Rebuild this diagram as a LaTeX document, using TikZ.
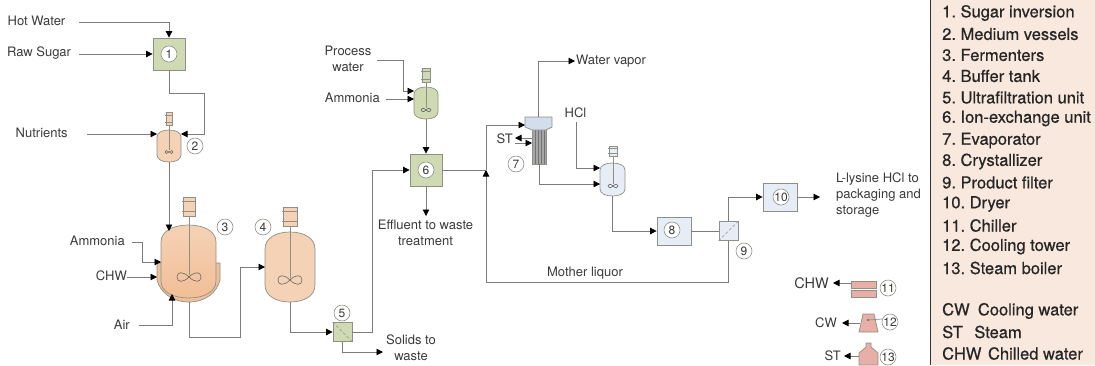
\documentclass[tikz,border=0pt]{standalone}
\usepackage{fontspec}
\setmainfont{TeX Gyre Heros}
\newfontfamily\legendfont[FakeBold=0.6]{TeX Gyre Heros}
\frenchspacing
\usetikzlibrary{arrows.meta,calc}
\definecolor{linegray}{HTML}{7C7C7C}
\definecolor{edgegray}{HTML}{8E9088}
\definecolor{txtgray}{HTML}{3A3A3A}
\definecolor{greenfill}{HTML}{CFDAB2}
\definecolor{bluefill}{HTML}{E7EDF6}
\definecolor{headfill}{HTML}{D3DEEC}
\definecolor{orangefill}{HTML}{F5D2B5}
\definecolor{orangedeep}{HTML}{F1BE96}
\definecolor{jacketfill}{HTML}{F0C09C}
\definecolor{pinkfill}{HTML}{E7AFA5}
\definecolor{panelfill}{HTML}{F9E8DE}
\tikzset{
  flow/.style={draw=linegray,line width=.8pt,-{Triangle[length=6.5pt,width=6.5pt,color=black]}},
  pipe/.style={draw=linegray,line width=.8pt},
  lbl/.style={text=txtgray,font=\frenchspacing\fontsize{13}{15.8}\selectfont,inner sep=0pt},
  unitbox/.style={draw=edgegray,line width=.8pt,minimum size=32pt,inner sep=0pt},
  smallbox/.style={draw=edgegray,line width=.8pt,minimum size=19pt,inner sep=0pt},
  num/.style={circle,draw=edgegray,line width=.6pt,fill=white,minimum size=16pt,inner sep=0pt,text=txtgray,font=\fontsize{12}{12}\selectfont},
  legend/.style={anchor=west,inner sep=0pt,text=black!85,font=\frenchspacing\legendfont\fontsize{16.5}{17}\selectfont},
  equip/.style={draw=edgegray,line width=.7pt},
}
% name, cx, cy, half width, half height, cap height, fill options
\newcommand{\vesselshape}[7]{%
  \begin{scope}[shift={(#2,#3)}]
    \path[equip,#7] (-#4,{-#5+#6}) .. controls (-#4,{-#5+.35*#6}) and ({-.55*#4},-#5) .. (0,-#5)
      .. controls ({.55*#4},-#5) and (#4,{-#5+.35*#6}) .. (#4,{-#5+#6})
      -- (#4,{#5-#6}) .. controls (#4,{#5-.35*#6}) and ({.55*#4},#5) .. (0,#5)
      .. controls ({-.55*#4},#5) and (-#4,{#5-.35*#6}) .. (-#4,{#5-#6}) -- cycle;
  \end{scope}
  \node[minimum width={2*#4 pt},minimum height={2*#5 pt},inner sep=0pt] (#1) at (#2,#3) {};
}
% cx, top, bottom, half width, fill
\newcommand{\motorshape}[5]{%
  \path[equip,fill=#5] ({#1-#4},#2) rectangle ({#1+#4},#3);
  \draw[equip] ({#1-#4-1},{#2+.22*(#3-#2)}) -- ({#1+#4+1},{#2+.22*(#3-#2)});
  \draw[equip] ({#1-#4-1},{#2+.78*(#3-#2)}) -- ({#1+#4+1},{#2+.78*(#3-#2)});
}
% cx, cy, half width
\newcommand{\impeller}[3]{%
  \begin{scope}[shift={(#1,#2)},scale=#3]
    \draw[draw=black!60,line width=.6pt] (0,0) .. controls (-.5,-.5) and (-1,-.45) .. (-1,0)
       .. controls (-1,.45) and (-.5,.5) .. (0,0)
       .. controls (.5,-.5) and (1,-.45) .. (1,0)
       .. controls (1,.45) and (.5,.5) .. (0,0);
  \end{scope}
}
\begin{document}
\begin{tikzpicture}[x=1pt,y=-1pt]
\useasboundingbox (0,0) rectangle (1095,365);

% legend panel
\path[fill=panelfill] (930,0) rectangle (1095,365);
\draw[black!80,line width=.9pt] (930,0) -- (930,365);
\node[legend] (l1) at (942,13) {1. Sugar inversion};
\node[legend] (l2) at (942,34) {2. Medium vessels};
\node[legend] (l3) at (942,55) {3. Fermenters};
\node[legend] (l4) at (942,76) {4. Buffer tank};
\node[legend] (l5) at (942,97.5) {5. Ultrafiltration unit};
\node[legend] (l6) at (942,118.5) {6. Ion-exchange unit};
\node[legend] (l7) at (942,140.5) {7. Evaporator};
\node[legend] (l8) at (942,161.5) {8. Crystallizer};
\node[legend] (l9) at (942,182.5) {9. Product filter};
\node[legend] (l10) at (942,204) {10. Dryer};
\node[legend] (l11) at (942,225.5) {11. Chiller};
\node[legend] (l12) at (942,246.5) {12. Cooling tower};
\node[legend] (l13) at (942,268) {13. Steam boiler};
\node[legend] (l14) at (942,311) {CW\hspace{.5em}Cooling water};
\node[legend] (l15) at (942,332) {ST\hspace{.7em}Steam};
\node[legend] (l16) at (942,353.5) {CHW\hspace{.4em}Chilled water};

% boxes
\node[unitbox,fill=greenfill] (b1) at (169,54) {};
\node[smallbox,fill=greenfill] (b5) at (342.5,332) {};
\node[unitbox,fill=greenfill] (b6) at (426,170) {};
\node[unitbox,fill=bluefill,minimum width=34pt,minimum height=28pt] (b8) at (674,231) {};
\node[smallbox,fill=bluefill] (b9) at (728.5,231) {};
\node[unitbox,fill=bluefill,minimum width=34pt,minimum height=28pt] (b10) at (780,197) {};
\draw[edgegray,densely dashed,line width=.6pt] (b5.north west) -- (b5.south east);
\draw[edgegray,densely dashed,line width=.6pt] (b9.south west) -- (b9.north east);

% medium vessel (2)
\draw[equip] (169,125) -- (169,152);
\vesselshape{v2}{169}{146}{12}{16}{7}{fill=orangefill}
\motorshape{169}{112}{125}{3}{orangefill}
\draw[equip] (169,125) -- (169,150);
\impeller{169}{152}{4}

% fermenter (3) with jacket
\path[equip,fill=jacketfill] (157,263) -- (157,280) .. controls (160,292) and (172,302) .. (189,302)
  .. controls (206,302) and (217,292) .. (220,280) -- (220,263) -- cycle;
\vesselshape{v3}{188.5}{261.5}{27.5}{36.5}{17}{top color=orangefill,bottom color=orangedeep}
\motorshape{189}{197}{216}{6}{orangefill}
\draw[equip] (189,216) -- (189,275);
\impeller{189}{277}{12}

% buffer tank (4)
\vesselshape{v4}{290}{267}{25}{35}{17}{fill=orangefill}
\motorshape{290}{207}{226}{7}{orangefill}
\draw[equip] (290,226) -- (290,278);
\impeller{290}{280}{12}

% ammonia vessel above (6)
\vesselshape{v6}{426}{103}{12}{16}{7}{fill=greenfill}
\motorshape{426}{68}{82}{4}{greenfill}
\draw[equip] (426,82) -- (426,108);
\impeller{426}{110}{5}

% HCl vessel (before 8)
\vesselshape{v7}{612.5}{179.5}{12.5}{16.5}{7}{fill=bluefill}
\motorshape{613}{146}{156}{4}{bluefill}
\draw[equip] (613,156) -- (613,184);
\impeller{613}{186}{5}

% evaporator
\path[equip,fill=black!35] (532,128) rectangle (546,164);
\foreach \tx in {535,538,541,544} \draw[black!55,line width=.6pt] (\tx,130) -- (\tx,164);
\path[equip,fill=headfill] (525,117) -- (552,117) -- (552,127) -- (546,130) -- (532,130) -- (525,127) -- cycle;
\node[minimum width=27pt,minimum height=10pt,inner sep=0pt] (evap) at (538.5,122) {};
\node[minimum width=14pt,minimum height=34pt,inner sep=0pt] (tubes) at (539,147) {};

% utilities
\path[equip,fill=pinkfill] (851,281) rectangle (876,288);
\path[equip,fill=pinkfill] (851,290) rectangle (876,297);
\node[minimum width=25pt,minimum height=16pt,inner sep=0pt] (chiller) at (863.5,289) {};
\path[equip,fill=pinkfill] (863,314) -- (874,314) -- (878,332) -- (859,332) -- cycle;
\node[minimum width=17pt,minimum height=18pt,inner sep=0pt] (tower) at (868.5,323) {};
\fill[black!70] (868,320) circle (1pt);
\draw[equip] (868,320) -- (882,319);
\path[equip,fill=pinkfill] (866,343) -- (871,343) -- (871,347) -- (878,353) -- (878,365) -- (859,365) -- (859,353) -- (866,347) -- cycle;
\node[minimum width=19pt,minimum height=22pt,inner sep=0pt] (boiler) at (868.5,354) {};

% circled numbers
\node[num] (n1) at (169,54) {1};
\node[num] (n2) at (195,146) {2};
\node[num] (n3) at (225,227) {3};
\node[num] (n4) at (263,227) {4};
\node[num] (n5) at (342,313) {5};
\node[num] (n6) at (426,170) {6};
\node[num] (n7) at (516,164) {7};
\node[num] (n8) at (672,230) {8};
\node[num] (n9) at (744,251) {9};
\node[num] (n10) at (781,197) {10};
\node[num] (n11) at (888,288) {11};
\node[num] (n12) at (890,322) {12};
\node[num] (n13) at (888,357) {13};

% labels
\node[lbl,anchor=east] (hot) at (65.5,21) {Hot Water};
\node[lbl,anchor=west] (raw) at (7,53) {Raw Sugar};
\node[lbl,anchor=west] (nut) at (15.5,133) {Nutrients};
\node[lbl,anchor=east] (amm3) at (125,241) {Ammonia};
\node[lbl,anchor=east] (chw3) at (127,276) {CHW};
\node[lbl,anchor=east] (air) at (130,325) {Air};
\node[lbl,align=center] (pw) at (348,59) {Process\\water};
\node[lbl,anchor=east] (amm6) at (380,98) {Ammonia};
\node[lbl,align=center] (eff) at (425.5,232.5) {Effluent to waste\\treatment};
\node[lbl,align=center] (sol) at (411,348) {Solids to\\waste};
\node[lbl,anchor=west] (wv) at (576,61) {Water vapor};
\node[lbl,anchor=center] (hcl) at (575.5,113) {HCl};
\node[lbl,anchor=east] (stin) at (513,139) {ST};
\node[lbl,anchor=center] (ml) at (585,273) {Mother liquor};
\node[lbl,anchor=north west,align=left] (prod) at (836,173) {L-lysine HCl to\\packaging and\\storage};
\node[lbl,anchor=east,font=\fontsize{14.5}{15}\selectfont] (chwo) at (829,283) {CHW};
\node[lbl,anchor=east] (cwo) at (837,323) {CW};
\node[lbl,anchor=east] (sto) at (841,355.5) {ST};

% free ends and ports
\coordinate (hotS) at (79,22);
\coordinate (rawS) at (79,54);
\coordinate (nutS) at (87,134);
\coordinate (v2L) at (157,134);
\coordinate (v2R) at (181,134);
\coordinate (b1j) at (204,93);
\coordinate (v3T) at (168,231);
\coordinate (amS) at (132,242);
\coordinate (amJ) at (142,262);
\coordinate (v3a) at (161,262);
\coordinate (chS) at (127,277);
\coordinate (v3c) at (157,277);
\coordinate (airS) at (139,325);
\coordinate (v3b) at (172,294);
\coordinate (v3o) at (189,302);
\coordinate (v4i) at (265,267);
\coordinate (wasteE) at (383,352);
\coordinate (pwS) at (377,60);
\coordinate (v6a) at (414,91);
\coordinate (amm6S) at (386,99);
\coordinate (v6b) at (414,99);
\coordinate (effE) at (426,216);
\coordinate (mlT) at (486,170);
\coordinate (evI) at (525,125);
\coordinate (wvE) at (575,61);
\coordinate (stOutS) at (532,138);
\coordinate (stOutE) at (515,138);
\coordinate (stInS) at (515,143);
\coordinate (stInE) at (532,143);
\coordinate (hclS) at (576,122);
\coordinate (v7a) at (600,168);
\coordinate (v7b) at (600,184);
\coordinate (prodE) at (820,197);
\coordinate (chwE) at (833,283);
\coordinate (cwE) at (842,323);
\coordinate (stE) at (844,356);

% connectors
\draw[flow] (hotS) -| (b1.north);
\draw[flow] (rawS) -- (b1.west);
\draw[pipe] (b1.south) |- (b1j);
\draw[flow] (b1j) |- (v2R);
\draw[flow] (nutS) -- (v2L);
\draw[flow] (v2.south) -- (v2.south |- v3T);
\draw[flow] (amS) -| (amJ) -- (v3a);
\draw[flow] (chS) -- (v3c);
\draw[flow] (airS) -| (v3b);
\draw[flow] (v3o) -- ++(0,35) -- ++(51,0) |- (v4i);
\draw[flow] (v4.south) |- (b5.west);
\draw[flow] (b5.east) -- ++(19.5,0) |- (b6.west);
\draw[flow] (b5.south) |- (wasteE);
\draw[flow] (pwS) -| (403,91) -- (v6a);
\draw[flow] (amm6S) -- (v6b);
\draw[flow] (v6.south) -- (b6.north);
\draw[flow] (b6.south) -- (effE);
\draw[pipe] (b6.east) -- (mlT);
\draw[flow] (b9.south) |- (486,282) -- (mlT);
\draw[flow] (mlT) |- (evI);
\draw[flow] (evap.north) |- (wvE);
\draw[flow] (stOutS) -- (stOutE);
\draw[flow] (stInS) -- (stInE);
\draw[flow] (tubes.south) |- (v7b);
\draw[flow] (hclS) |- (v7a);
\draw[flow] (v7.south) |- (b8.west);
\draw[pipe] (b8.east) -- (b9.west);
\draw[flow] (b9.north) |- (b10.west);
\draw[flow] (b10.east) -- (prodE);
\draw[flow] (chiller.west |- chwE) -- (chwE);
\draw[flow] (tower.west) -- (cwE);
\draw[flow] (boiler.west |- stE) -- (stE);
\end{tikzpicture}
\end{document}
